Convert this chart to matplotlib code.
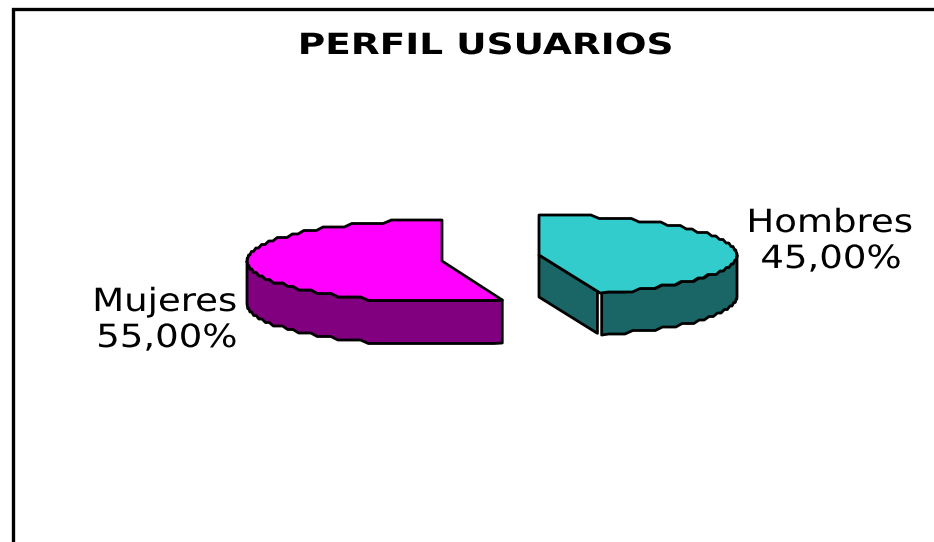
import matplotlib
matplotlib.use("Agg")
import matplotlib.pyplot as plt
import matplotlib.patheffects as pe
from matplotlib.transforms import Affine2D
import numpy as np

# data
labels = ["Hombres", "Mujeres"]
shares = [45.0, 55.0]
share_text = ["45,00%", "55,00%"]
title = "PERFIL USUARIOS"

# colours: top face, side face
top_colors = ["#33CCCC", "#FF00FF"]
side_colors = ["#1A6666", "#800080"]


class Stretch(pe.AbstractPathEffect):
    # the reference was widened, text keeps its height
    def __init__(self, sx):
        super().__init__()
        self.sx = sx

    def draw_path(self, renderer, gc, tpath, affine, rgbFace=None):
        cx = tpath.get_extents().x0 + tpath.get_extents().width / 2
        tr = Affine2D().translate(-cx, 0).scale(self.sx, 1).translate(cx, 0)
        renderer.draw_path(gc, tpath, tr + affine, rgbFace)


def arc(cx, cy, a, b, t0, t1, dy=0, step=2.5):
    # t measured clockwise from the top of the ellipse, snapped for the rough outline
    n = max(int(abs(t1 - t0) / step), 1)
    t = np.radians(np.linspace(t0, t1, n + 1))
    x = cx + a * np.sin(t)
    y = cy - b * np.cos(t)
    y0 = cy - b
    y[1:-1] = y0 + np.round((y[1:-1] - y0) / 3.5) * 3.5
    return np.column_stack([x, y + dy])


def poly(ax, pts, color):
    ax.fill(pts[:, 0], pts[:, 1], facecolor=color, edgecolor="black", lw=2.0, joinstyle="round")


fig = plt.figure(figsize=(9.34, 5.42), dpi=100)
ax = fig.add_axes([0, 0, 1, 1])
ax.set_xlim(0, 934)
ax.set_ylim(542, 0)
ax.axis("off")

# chart frame, open on the right and at the bottom
ax.plot([13, 13, 934], [542, 9, 9], color="black", lw=2.4, solid_joinstyle="miter")

angles = np.cumsum([0] + shares) * 3.6

# Hombres slice, pulled to the right
cx, cy, a, b, depth = 539, 255, 198, 40, 42
t0, t1 = angles[0], angles[1]
edge = arc(cx, cy, a, b, t1, t1)[0]
apex = np.array([cx, cy])
near = apex + 0.955 * (edge - apex)
poly(ax, np.array([apex, near, near + [0, depth], apex + [0, depth]]), side_colors[0])
wall_top = arc(cx, cy, a, b, 90, t1)
wall_bot = arc(cx, cy, a, b, 90, t1, dy=depth)
wall_top[-1, 0] += 1.5
wall_bot[-1, 0] += 1.5
poly(ax, np.vstack([wall_top, wall_bot[::-1]]), side_colors[0])
poly(ax, np.vstack([[apex], arc(cx, cy, a, b, t0, t1)]), top_colors[0])

# Mujeres slice
cx, cy, a, b, depth = 442, 261, 195, 41, 43
t0, t1 = angles[1], angles[2]
apex = np.array([cx, cy])
wall_top = arc(cx, cy, a, b, t0, 270)
wall_bot = arc(cx, cy, a, b, t0, 270, dy=depth)
poly(ax, np.vstack([wall_top, wall_bot[::-1]]), side_colors[1])
poly(ax, np.vstack([[apex], arc(cx, cy, a, b, t0, t1)]), top_colors[1])

ax.text(485.5, 54, title, ha="center", va="baseline", fontsize=21, fontweight="bold",
        color="black", path_effects=[Stretch(1.285)])

label_fx = [Stretch(1.16)]
ax.text(830, 232, labels[0], ha="center", va="baseline", fontsize=23, path_effects=label_fx)
ax.text(831, 268, share_text[0], ha="center", va="baseline", fontsize=23, path_effects=label_fx)
ax.text(165, 311, labels[1], ha="center", va="baseline", fontsize=23, path_effects=label_fx)
ax.text(167, 347, share_text[1], ha="center", va="baseline", fontsize=23, path_effects=label_fx)

fig.savefig("out.png", dpi=100)
